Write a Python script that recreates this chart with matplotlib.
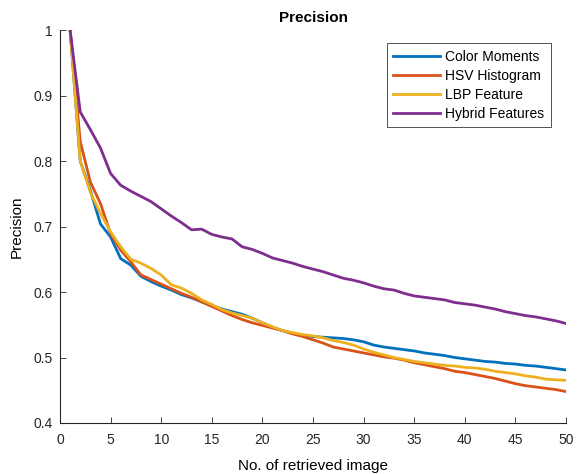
import matplotlib
matplotlib.use("Agg")
import matplotlib.pyplot as plt
import numpy as np

plt.rcParams['font.family'] = ['Liberation Sans', 'DejaVu Sans']

x = list(range(1, 51))

color_moments = [1.0, 0.80, 0.755, 0.704, 0.684, 0.651, 0.641, 0.624, 0.616, 0.609,
                 0.603, 0.596, 0.591, 0.585, 0.579, 0.574, 0.570, 0.566, 0.560, 0.553,
                 0.546, 0.541, 0.537, 0.534, 0.532, 0.531, 0.530, 0.529, 0.527, 0.524,
                 0.519, 0.516, 0.514, 0.512, 0.510, 0.507, 0.505, 0.503, 0.500, 0.498,
                 0.496, 0.494, 0.493, 0.491, 0.490, 0.488, 0.487, 0.485, 0.483, 0.481]

hsv_histogram = [1.0, 0.83, 0.768, 0.735, 0.689, 0.664, 0.646, 0.626, 0.619, 0.612,
                 0.605, 0.598, 0.592, 0.585, 0.578, 0.571, 0.564, 0.558, 0.553, 0.549,
                 0.545, 0.541, 0.536, 0.532, 0.527, 0.522, 0.516, 0.513, 0.510, 0.507,
                 0.504, 0.501, 0.499, 0.496, 0.492, 0.489, 0.486, 0.483, 0.479, 0.477,
                 0.474, 0.471, 0.468, 0.464, 0.460, 0.457, 0.455, 0.453, 0.451, 0.448]

lbp_feature = [1.0, 0.80, 0.752, 0.72, 0.692, 0.669, 0.650, 0.644, 0.636, 0.626,
               0.611, 0.606, 0.598, 0.588, 0.581, 0.573, 0.568, 0.564, 0.560, 0.553,
               0.547, 0.541, 0.538, 0.535, 0.533, 0.530, 0.526, 0.523, 0.519, 0.513,
               0.508, 0.504, 0.500, 0.497, 0.494, 0.492, 0.490, 0.488, 0.487, 0.485,
               0.484, 0.482, 0.479, 0.477, 0.475, 0.472, 0.470, 0.467, 0.466, 0.465]

hybrid_features = [1.0, 0.875, 0.848, 0.82, 0.781, 0.763, 0.754, 0.746, 0.738, 0.727,
                   0.716, 0.706, 0.695, 0.696, 0.688, 0.684, 0.681, 0.669, 0.665, 0.659,
                   0.652, 0.648, 0.644, 0.639, 0.635, 0.631, 0.626, 0.621, 0.618, 0.614,
                   0.609, 0.605, 0.603, 0.598, 0.594, 0.592, 0.590, 0.588, 0.584, 0.582,
                   0.580, 0.577, 0.574, 0.570, 0.567, 0.564, 0.562, 0.559, 0.556, 0.552]

series = [("Color Moments", color_moments, "#0072BD"),
          ("HSV Histogram", hsv_histogram, "#D95319"),
          ("LBP Feature", lbp_feature, "#EDB120"),
          ("Hybrid Features", hybrid_features, "#7E2F8E")]

fig = plt.figure(figsize=(5.79, 4.74), dpi=100)
ax = fig.add_axes([0.1036, 0.1076, 0.874, 0.829])

for name, vals, col in series:
    ax.plot(x, vals, color=col, lw=2.0, label=name)

ax.set_xlim(0, 50)
ax.set_ylim(0.4, 1.0)
ax.set_xticks(np.arange(0, 51, 5))
ax.set_yticks([0.4, 0.5, 0.6, 0.7, 0.8, 0.9, 1.0])
ax.set_yticklabels(["0.4", "0.5", "0.6", "0.7", "0.8", "0.9", "1"])
ax.spines['top'].set_visible(False)
ax.spines['right'].set_visible(False)
for s in ['left', 'bottom']:
    ax.spines[s].set_color('#262626')
    ax.spines[s].set_linewidth(0.8)
ax.tick_params(direction='in', length=4, labelsize=10, colors='#262626', width=0.6)
ax.tick_params(axis='x', pad=7.5)
ax.tick_params(axis='y', pad=5.5)

ax.set_title("Precision", fontsize=11, fontweight='bold', pad=6)
ax.set_xlabel("No. of retrieved image", fontsize=11, labelpad=8)
ax.set_ylabel("Precision", fontsize=11, labelpad=7)

leg = ax.legend(loc='upper right', bbox_to_anchor=(0.970, 0.966), fontsize=10,
                frameon=True, fancybox=False, handlelength=3.4, handletextpad=0.36,
                borderpad=0.45, labelspacing=0.36, borderaxespad=0)
leg.get_frame().set_edgecolor('#262626')
leg.get_frame().set_linewidth(0.7)

fig.savefig("out.png", dpi=100)
